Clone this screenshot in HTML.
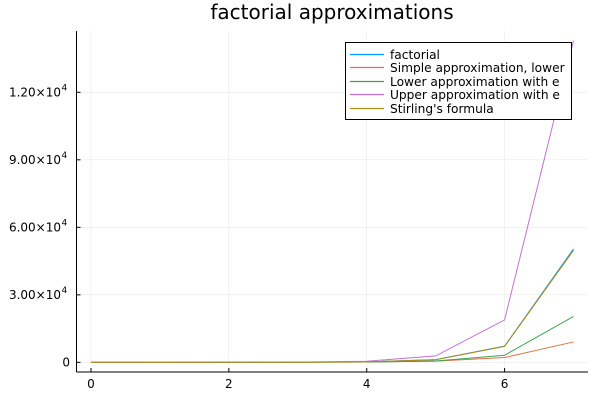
<!DOCTYPE html>
<html><head><meta charset="utf-8"><style>
body{margin:0;background:#fff}
svg text{font-family:"DejaVu Sans","Liberation Sans",sans-serif}
</style></head><body>
<svg id="chart" width="600" height="400" xmlns="http://www.w3.org/2000/svg">
<rect width="600" height="400" fill="#fff"/>
<text x="332" y="19" font-size="20" text-anchor="middle" fill="#000">factorial approximations</text>
<g id="grid"></g>
<g id="axes"></g>
<g id="series"></g>
<g id="legend"></g>
</svg>
<script>
const xs=[0,1,2,3,4,5,6,7];
const factorial=[1,1,2,6,24,120,720,5040];
const simpleLower=[1,1,2,5.196,16,55.9,216,907.5];
const lowerE=[2.718,1,1.471,3.653,12.75,57.24,314.3,2042];
const upperE=[0,1,2.943,10.96,51.0,286.2,1886,14296];
const stirling=[0,0.922,1.919,5.836,23.51,118.0,710.1,4980];
const seriesNames=["factorial","Simple approximation, lower","Lower approximation with e","Upper approximation with e","Stirling's formula"];
const seriesData=[factorial,simpleLower,lowerE,upperE,stirling];
const colors=["#009af9","#e26f46","#3da44d","#c271d2","#ac8d18"];
const xTicks=[0,2,4,6];
const yTicks=[0,3000,6000,9000,12000];
const yTickLabels=["0","3.00×10","6.00×10","9.00×10","1.20×10"];
const L=76.5,R=588,T=31,B=372;
const xmin=-0.21,xmax=7.21,ymin=-429,ymax=14725;
const X=v=>L+(v-xmin)/(xmax-xmin)*(R-L);
const Y=v=>B-(v-ymin)/(ymax-ymin)*(B-T);
const NS="http://www.w3.org/2000/svg";
function mk(tag,attrs,parent){const e=document.createElementNS(NS,tag);for(const k in attrs)e.setAttribute(k,attrs[k]);parent.appendChild(e);return e;}
const grid=document.getElementById('grid'),axes=document.getElementById('axes'),ser=document.getElementById('series'),leg=document.getElementById('legend');
xTicks.forEach(t=>{
 const g=mk('line',{x1:X(t),x2:X(t),y1:T,y2:B,stroke:"#000","stroke-opacity":0.1,"stroke-width":0.5},grid);
 
 
 const tk=mk('line',{x1:X(t),x2:X(t),y1:B,y2:B-4,stroke:"#000","stroke-width":1},axes);
 
 
 const tx=mk('text',{x:X(t),y:B+16,"font-size":12,"text-anchor":"middle",fill:"#000"},axes);
 tx.textContent=t;
 
 
});
yTicks.forEach((t,i)=>{
 const g=mk('line',{x1:L,x2:R,y1:Y(t),y2:Y(t),stroke:"#000","stroke-opacity":0.1,"stroke-width":0.5},grid);
 
 
 const tk=mk('line',{x1:L,x2:L+4,y1:Y(t),y2:Y(t),stroke:"#000","stroke-width":1},axes);
 
 
 const tx=mk('text',{x:i===0?70:61,y:Y(t)+4,"font-size":12,"text-anchor":"end",fill:"#000"},axes);
 tx.textContent=yTickLabels[i];
 
 
 if(i>0){const s=mk('text',{x:61.5,y:Y(t)-2,"font-size":9,"text-anchor":"start",fill:"#000"},axes);s.textContent="4";
 
 }
});
const ax1=mk('line',{x1:L,x2:L,y1:T,y2:B,stroke:"#000","stroke-width":1},axes);


const ax2=mk('line',{x1:L,x2:R,y1:B,y2:B,stroke:"#000","stroke-width":1},axes);


const cp=mk('clipPath',{id:"clip"},document.getElementById('chart'));
mk('rect',{x:L,y:T,width:R-L,height:B-T},cp);
ser.setAttribute('clip-path','url(#clip)');
seriesData.forEach((d,i)=>{
 const p=mk('polyline',{points:d.map((v,j)=>X(xs[j])+","+Y(v)).join(" "),fill:"none",stroke:colors[i],"stroke-width":1},ser);
 
 
});
const lb=mk('rect',{x:345.5,y:42.5,width:226,height:77,fill:"#fff",stroke:"#000","stroke-width":1},leg);


seriesNames.forEach((n,i)=>{
 const yy=Math.round(54+i*13.4)+0.5;
 const l=mk('line',{x1:350,x2:384,y1:yy,y2:yy,stroke:colors[i],"stroke-width":1.2},leg);
 
 
 const t=mk('text',{x:390,y:yy+4.5,"font-size":12.2,fill:"#000"},leg);
 t.textContent=n;
 
 
});
</script>
</body></html>
